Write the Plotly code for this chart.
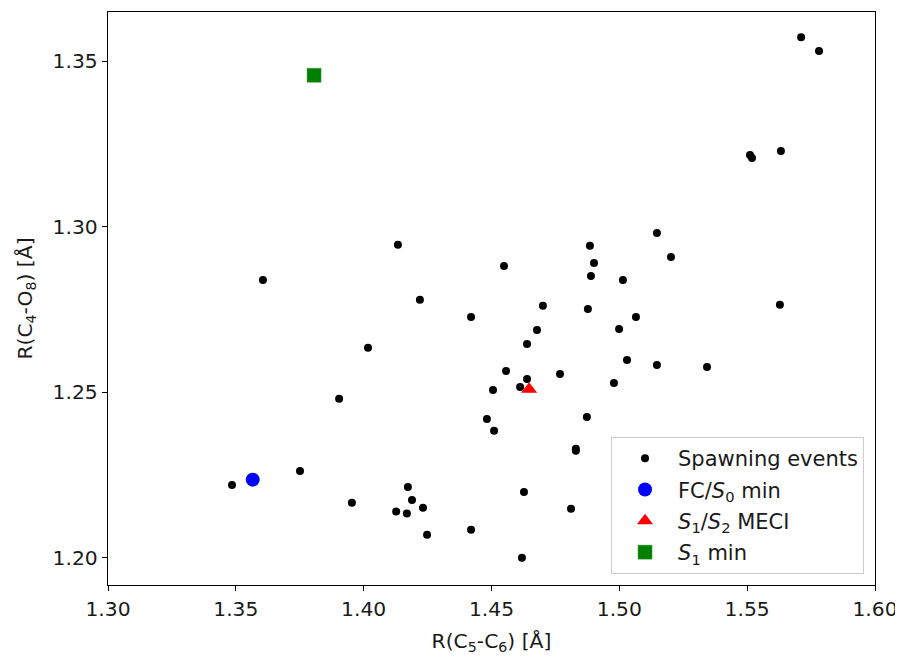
import plotly.graph_objects as go

# Spawning events: R(C5-C6), R(C4-O8) in Angstrom
spawn_x = [1.5711, 1.5781, 1.5511, 1.5519, 1.5632, 1.5147, 1.5202, 1.4885, 1.4901, 1.4889,
           1.5014, 1.4549, 1.4134, 1.3606, 1.4220, 1.4701, 1.4877, 1.5628, 1.4420, 1.5065,
           1.4678, 1.4999, 1.4639, 1.4017, 1.5030, 1.4557, 1.4768, 1.5147, 1.5343, 1.4639,
           1.4612, 1.4506, 1.4979, 1.3904, 1.4482, 1.4510, 1.4873, 1.4830, 1.4830, 1.3751,
           1.3485, 1.4173, 1.4189, 1.3954, 1.4127, 1.4169, 1.4232, 1.4248, 1.4420, 1.4627,
           1.4811, 1.4619]
spawn_y = [1.3572, 1.3530, 1.3216, 1.3207, 1.3228, 1.2981, 1.2908, 1.2942, 1.2890, 1.2851,
           1.2839, 1.2881, 1.2945, 1.2839, 1.2779, 1.2761, 1.2751, 1.2764, 1.2727, 1.2727,
           1.2688, 1.2691, 1.2646, 1.2634, 1.2597, 1.2564, 1.2555, 1.2582, 1.2576, 1.2540,
           1.2516, 1.2507, 1.2528, 1.2480, 1.2419, 1.2384, 1.2425, 1.2329, 1.2323, 1.2262,
           1.2220, 1.2214, 1.2175, 1.2166, 1.2140, 1.2134, 1.2151, 1.2070, 1.2085, 1.2199,
           1.2148, 1.2000]

fc_x, fc_y = [1.3566], [1.2236]
meci_x, meci_y = [1.4647], [1.2509]
s1_x, s1_y = [1.3806], [1.3457]

x_ticks = [1.30, 1.35, 1.40, 1.45, 1.50, 1.55, 1.60]
y_ticks = [1.20, 1.25, 1.30, 1.35]

FONT = "DejaVu Sans"
FS = 20.3
LFS = 21
TXT = "#1a1a1a"

fig = go.Figure()
fig.add_trace(go.Scatter(x=spawn_x, y=spawn_y, mode="markers", name="Spawning events",
                         legendgroup="a",
                         marker=dict(color="black", size=8, symbol="circle")))
fig.add_trace(go.Scatter(x=fc_x, y=fc_y, mode="markers", name="FC/<i>S</i><sub>0</sub> min",
                         legendgroup="b",
                         marker=dict(color="#0000ff", size=14, symbol="circle")))
fig.add_trace(go.Scatter(x=meci_x, y=meci_y, mode="markers",
                         name="<i>S</i><sub>1</sub>/<i>S</i><sub>2</sub> MECI",
                         legendgroup="c",
                         marker=dict(color="#ff0000", size=14, symbol="triangle-up")))
fig.add_trace(go.Scatter(x=s1_x, y=s1_y, mode="markers", name="<i>S</i><sub>1</sub> min",
                         legendgroup="d",
                         marker=dict(color="#008000", size=14, symbol="square",
                                     line=dict(color="#3a9a3a", width=0.5))))

axis_common = dict(showline=True, linecolor="black", linewidth=1.3, mirror=True,
                   ticks="outside", ticklen=5, tickwidth=1.2, tickcolor="black",
                   showgrid=False, zeroline=False,
                   tickfont=dict(family=FONT, size=FS, color=TXT))

fig.update_xaxes(range=[1.30, 1.60], tickvals=x_ticks,
                 ticktext=[f"{v:.2f}" for v in x_ticks],
                 title=dict(text="R(C<sub>5</sub>-C<sub>6</sub>) [Å]",
                            font=dict(family=FONT, size=FS, color=TXT), standoff=14),
                 **axis_common)
fig.update_yaxes(range=[1.1918, 1.3648], tickvals=y_ticks,
                 ticktext=[f"{v:.2f}" for v in y_ticks],
                 title=dict(text="R(C<sub>4</sub>-O<sub>8</sub>) [Å]",
                            font=dict(family=FONT, size=FS, color=TXT), standoff=14),
                 **axis_common)

fig.update_layout(
    width=895, height=649,
    margin=dict(l=100, r=28, t=4, b=72),
    plot_bgcolor="white", paper_bgcolor="white",
    font=dict(family=FONT, size=FS, color=TXT),
    legend=dict(x=0.9857, y=0.019, xanchor="right", yanchor="bottom",
                bgcolor="rgba(255,255,255,0.8)", bordercolor="#cccccc", borderwidth=1,
                font=dict(family=FONT, size=LFS, color=TXT),
                tracegroupgap=1, itemsizing="trace", itemwidth=56),
)

fig.write_html("out.html")
